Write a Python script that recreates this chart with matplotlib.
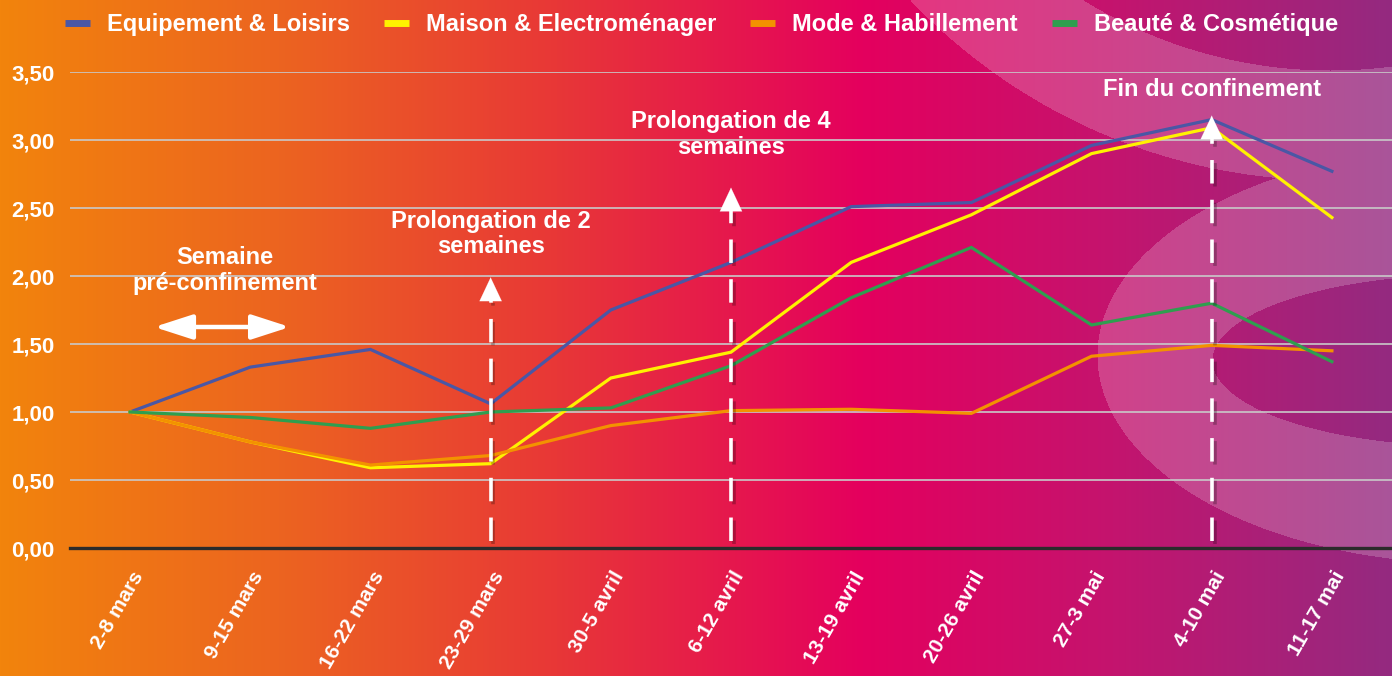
import numpy as np
import matplotlib
matplotlib.use("Agg")
import matplotlib.pyplot as plt
from matplotlib.lines import Line2D
from matplotlib.transforms import ScaledTranslation
import matplotlib.patheffects as pe

# ---------------- data ----------------
weeks = ["2-8 mars", "9-15 mars", "16-22 mars", "23-29 mars", "30-5 avril",
         "6-12 avril", "13-19 avril", "20-26 avril", "27-3 mai", "4-10 mai", "11-17 mai"]
equipement = [1.00, 1.33, 1.46, 1.06, 1.75, 2.10, 2.51, 2.54, 2.96, 3.15, 2.77]
maison     = [1.00, 0.78, 0.59, 0.62, 1.25, 1.44, 2.10, 2.45, 2.90, 3.09, 2.43]
mode       = [1.00, 0.78, 0.61, 0.68, 0.90, 1.01, 1.02, 0.99, 1.41, 1.49, 1.45]
beaute     = [1.00, 0.96, 0.88, 1.00, 1.03, 1.34, 1.84, 2.21, 1.64, 1.80, 1.37]
series_names = ["Equipement & Loisirs", "Maison & Electroménager",
                "Mode & Habillement", "Beauté & Cosmétique"]
series_colors = ["#4a57a5", "#fff200", "#f39200", "#2f9e4f"]
yticks = [0.0, 0.5, 1.0, 1.5, 2.0, 2.5, 3.0, 3.5]

# events (category index, arrow tip value, label)
event_idx = [3, 5, 9]
event_tip = [1.99, 2.65, 3.18]
event_text = ["Prolongation de 2\nsemaines", "Prolongation de 4\nsemaines", "Fin du confinement"]
event_text_y = [2.31, 3.04, 3.37]

W, H = 1392, 676
DPI = 100
plt.rcParams['font.family'] = ['Liberation Sans', 'DejaVu Sans']

fig = plt.figure(figsize=(W / DPI, H / DPI), dpi=DPI)

# ---------------- background ----------------
bg = fig.add_axes([0, 0, 1, 1])
bg.set_axis_off()
xs = np.arange(W)
ys = np.arange(H)
stops_pos = [0.0, 0.20, 0.40, 0.62, 0.80, 1.0]
stops_col = np.array([(242, 132, 12), (236, 100, 32), (232, 55, 55),
                      (228, 0, 94), (196, 20, 110), (148, 42, 128)]) / 255.0
t = xs / (W - 1)
row = np.stack([np.interp(t, stops_pos, stops_col[:, c]) for c in range(3)], axis=-1)
img = np.repeat(row[None, :, :], H, axis=0)
X, Y = np.meshgrid(xs, ys)
# decorative shapes
d1 = np.hypot(X - 1330, Y + 400)
ring = (d1 < 580) & (d1 > 470)
big = ((X - 1470) / 373.0) ** 2 + ((Y - 355) / 208.0) ** 2 < 1
inner = ((X - 1470) / 258.0) ** 2 + ((Y - 360) / 86.0) ** 2 < 1
light = (ring | big) & ~inner & ~(d1 <= 470)
a = 0.2
img[light] = img[light] * (1 - a) + a
bg.imshow(img, extent=[0, 1, 0, 1], aspect='auto', zorder=0)
bg.set_xlim(0, 1)
bg.set_ylim(0, 1)

# ---------------- main axes ----------------
ax = fig.add_axes([70 / W, (H - 548) / H, 1 - 70 / W, (548 - 72) / H])
ax.set_facecolor('none')
x = np.arange(len(weeks))
for vals, name, col in zip([equipement, maison, mode, beaute], series_names, series_colors):
    ax.plot(x, vals, color=col, lw=2.3, label=name, zorder=3, solid_joinstyle='miter')

ax.set_xlim(-0.5, len(weeks) - 0.5)
ax.set_ylim(0, 3.5)
ax.set_yticks(yticks)
ax.set_yticklabels([f"{v:.2f}".replace('.', ',') for v in yticks],
                   color='white', fontweight='bold', fontsize=16)
ax.yaxis.grid(True, color='#c9c9c9', lw=1.2, zorder=1)
ax.set_axisbelow(True)
for s in ['left', 'right', 'top']:
    ax.spines[s].set_visible(False)
ax.spines['bottom'].set_color('#2b2b2b')
ax.spines['bottom'].set_linewidth(2.4)
ax.spines['bottom'].set_zorder(2)
ax.tick_params(axis='y', length=0, pad=11)
ax.tick_params(axis='x', length=0, pad=0)
ax.set_xticks(x)
ax.set_xticklabels(weeks, rotation=60, ha='right', va='center',
                   rotation_mode='anchor', color='white', fontweight='bold', fontsize=15)
off = ScaledTranslation(9 / DPI, -25 / DPI, fig.dpi_scale_trans)
for lab in ax.get_xticklabels():
    lab.set_transform(lab.get_transform() + off)

# ---------------- annotations ----------------
shadow = [pe.SimpleLineShadow(offset=(2, -2), alpha=0.25), pe.Normal()]
for xi, tip, txt, ty in zip(event_idx, event_tip, event_text, event_text_y):
    base = tip - 0.17
    ax.plot([xi, xi], [0.05, base], color='white', lw=2.6, dashes=(6.5, 4.5),
            zorder=4, path_effects=shadow)
    ax.annotate('', xy=(xi, tip), xytext=(xi, base - 0.02),
                arrowprops=dict(arrowstyle='-|>,head_length=0.85,head_width=0.4',
                                color='white', lw=0.1, mutation_scale=20, shrinkA=0, shrinkB=0),
                zorder=5)
    ax.text(xi, ty, txt, ha='center', va='center', color='white', fontweight='bold',
            fontsize=17, linespacing=1.12, zorder=6)

ax.text(0.79, 2.04, "Semaine\npré-confinement", ha='center', va='center', color='white',
        fontweight='bold', fontsize=17, linespacing=1.12, zorder=6)
ax.annotate('', xy=(1.33, 1.625), xytext=(0.20, 1.625),
            arrowprops=dict(arrowstyle='<|-|>,head_length=1.3,head_width=0.42',
                            color='white', lw=3.2, mutation_scale=18, shrinkA=0, shrinkB=0),
            zorder=6)

# ---------------- legend ----------------
handles = [Line2D([0], [0], color=c, lw=5, solid_capstyle='butt') for c in series_colors]
leg = fig.legend(handles, series_names, loc='upper center', bbox_to_anchor=(0.504, 1.012),
                 ncol=4, frameon=False, handlelength=1.06, handletextpad=0.72,
                 columnspacing=1.44, prop={'weight': 'bold', 'size': 17})
for tx in leg.get_texts():
    tx.set_color('white')

fig.savefig("out.png", dpi=DPI)
